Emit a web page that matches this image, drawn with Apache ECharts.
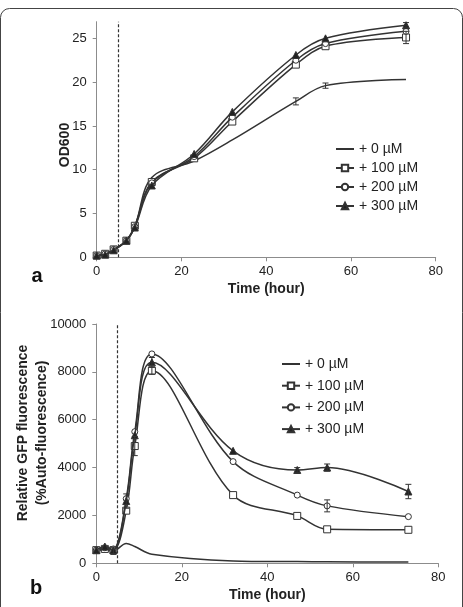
<!DOCTYPE html>
<html>
<head>
<meta charset="utf-8">
<script src="https://cdn.jsdelivr.net/npm/echarts@6/dist/echarts.min.js"></script>
<style>
html,body{margin:0;padding:0;background:#fff;}
#chart{width:463px;height:607px;}
</style>
</head>
<body>
<div id="chart"></div>
<script>
// ---------- data ----------
const seriesNames = ['+ 0 µM', '+ 100 µM', '+ 200 µM', '+ 300 µM'];

// Panel a: OD600 growth
const odTime = [0, 2, 4, 7, 9, 13, 23, 32, 47, 54, 73];
const od0   = [0.2, 0.4, 0.8, 1.9, 3.5, 9.1, 11.0, 13.4, 17.8, 19.6, 20.3];
const od100 = [0.2, 0.4, 0.9, 1.9, 3.6, 8.6, 11.3, 15.5, 22.0, 24.1, 25.1];
const od200 = [0.2, 0.4, 0.9, 1.9, 3.5, 8.5, 11.5, 16.0, 22.5, 24.4, 25.8];
const od300 = [0.2, 0.3, 0.8, 1.9, 3.4, 8.2, 11.8, 16.6, 23.1, 25.0, 26.5];
const odErr0   = [0, 0, 0, 0, 0, 0, 0, 0, 0.4, 0.3, 0];
const odErr100 = [0, 0, 0, 0, 0, 0, 0, 0, 0, 0, 0.7];
const odErr200 = [0, 0, 0, 0, 0, 0, 0, 0, 0, 0, 0];
const odErr300 = [0, 0, 0, 0, 0, 0, 0, 0, 0, 0, 0.3];

// Panel b: relative GFP fluorescence
const gfpTime = [0, 2, 4, 7, 9, 13, 32, 47, 54, 73];
const gfp0   = [550, 560, 520, 830, 700, 380, 100, 70, 60, 50];
const gfp100 = [550, 600, 550, 2200, 4900, 8050, 2850, 1980, 1420, 1400];
const gfp200 = [550, 650, 600, 2700, 5500, 8750, 4250, 2850, 2400, 1950];
const gfp300 = [550, 700, 550, 2600, 5350, 8400, 4700, 3900, 4000, 3000];
const gfpErr0   = [0, 0, 150, 0, 0, 0, 0, 0, 0, 0];
const gfpErr100 = [0, 0, 0, 0, 400, 150, 0, 0, 0, 0];
const gfpErr200 = [0, 0, 0, 0, 0, 0, 0, 0, 250, 0];
const gfpErr300 = [0, 0, 0, 300, 0, 200, 0, 100, 150, 300];

const xTicks = [0, 20, 40, 60, 80];
const odTicks = [0, 5, 10, 15, 20, 25];
const gfpTicks = [0, 2000, 4000, 6000, 8000, 10000];
const inductionTime = 5;

// ---------- chart ----------
const FONT = 'Liberation Sans, Arial, sans-serif';
const LINE = '#333';
const AXIS = '#8c8c8c';

const chart = echarts.init(document.getElementById('chart'));

function pairs(t, v) { return t.map((x, i) => [x, v[i]]); }
function errData(t, v, e) {
  const out = [];
  t.forEach((x, i) => { if (e[i] > 0) out.push([x, v[i] - e[i], v[i] + e[i]]); });
  return out;
}

const markerDefs = [
  { symbol: 'none', symbolSize: 0, fill: LINE },
  { symbol: 'rect', symbolSize: 7, fill: '#fff' },
  { symbol: 'circle', symbolSize: 6, fill: '#fff' },
  { symbol: 'triangle', symbolSize: 7, fill: '#222' }
];

function lineSeries(idx, gridIdx, t, v, withMark) {
  const m = markerDefs[idx];
  const s = {
    name: seriesNames[idx],
    type: 'line',
    xAxisIndex: gridIdx, yAxisIndex: gridIdx,
    data: pairs(t, v),
    smooth: 0.35,
    symbol: m.symbol,
    symbolSize: m.symbolSize,
    showSymbol: m.symbol !== 'none',
    lineStyle: { color: LINE, width: 1.5 },
    itemStyle: { color: m.fill, borderColor: LINE, borderWidth: 1 },
    z: 3 + idx,
    silent: true
  };
  if (withMark) {
    s.markLine = {
      silent: true,
      symbol: ['none', 'none'],
      label: { show: false },
      lineStyle: { type: [3, 2], color: '#333', width: 1.2 },
      data: [{ xAxis: inductionTime }]
    };
  }
  return s;
}

function errSeries(gridIdx, data) {
  return {
    type: 'custom',
    xAxisIndex: gridIdx, yAxisIndex: gridIdx,
    data: data,
    encode: { x: 0, y: [1, 2] },
    z: 10,
    silent: true,
    renderItem: function (params, api) {
      const x = api.value(0);
      const p1 = api.coord([x, api.value(1)]);
      const p2 = api.coord([x, api.value(2)]);
      const w = 3;
      const st = { stroke: LINE, lineWidth: 1 };
      return {
        type: 'group',
        children: [
          { type: 'line', shape: { x1: p1[0], y1: p1[1], x2: p2[0], y2: p2[1] }, style: st },
          { type: 'line', shape: { x1: p1[0] - w, y1: p1[1], x2: p1[0] + w, y2: p1[1] }, style: st },
          { type: 'line', shape: { x1: p2[0] - w, y1: p2[1], x2: p2[0] + w, y2: p2[1] }, style: st }
        ]
      };
    }
  };
}

function xAxisDef(gridIdx) {
  return {
    type: 'value', gridIndex: gridIdx, min: 0, max: 80, interval: 20,
    name: 'Time (hour)', nameLocation: 'middle', nameGap: 25,
    nameTextStyle: { fontFamily: FONT, fontSize: 14, fontWeight: 'bold', color: '#222' },
    axisLine: { lineStyle: { color: AXIS, width: 1 } },
    axisTick: { show: true, length: 4, lineStyle: { color: AXIS } },
    axisLabel: { fontFamily: FONT, fontSize: 13, color: '#222', margin: 8,
      customValues: xTicks, formatter: v => String(v) },
    splitLine: { show: false }
  };
}

function legendData() {
  return seriesNames.map((n, i) => i === 0 ? { name: n, itemStyle: { opacity: 0 } } : { name: n });
}

const option = {
  animation: false,
  backgroundColor: '#fff',
  grid: [
    { left: 96.7, right: 27.3, top: 21.7, bottom: 349.7 },
    { left: 96.3, right: 24.7, top: 324, bottom: 43.7 }
  ],
  xAxis: [xAxisDef(0), xAxisDef(1)],
  yAxis: [
    {
      type: 'value', gridIndex: 0, min: 0, max: 26.9,
      axisLine: { show: true, lineStyle: { color: AXIS, width: 1 } },
      axisTick: { show: true, length: 4, lineStyle: { color: AXIS }, customValues: odTicks },
      axisLabel: { fontFamily: FONT, fontSize: 13, color: '#222', margin: 10,
        customValues: odTicks, formatter: v => String(v) },
      splitLine: { show: false }
    },
    {
      type: 'value', gridIndex: 1, min: 0, max: 10000, interval: 2000,
      axisLine: { show: true, lineStyle: { color: AXIS, width: 1 } },
      axisTick: { show: true, length: 4, lineStyle: { color: AXIS } },
      axisLabel: { fontFamily: FONT, fontSize: 13, color: '#222', margin: 10,
        customValues: gfpTicks, formatter: v => String(v) },
      splitLine: { show: false }
    }
  ],
  legend: [
    {
      orient: 'vertical', left: 330, top: 136,
      itemWidth: 18, itemHeight: 8, itemGap: 3,
      data: legendData(),
      selectedMode: false,
      textStyle: { fontFamily: FONT, fontSize: 14, color: '#222', height: 16, lineHeight: 16 }
    },
    {
      orient: 'vertical', left: 276, top: 351,
      itemWidth: 18, itemHeight: 8, itemGap: 5.7,
      data: legendData(),
      selectedMode: false,
      textStyle: { fontFamily: FONT, fontSize: 14, color: '#222', height: 16, lineHeight: 16 }
    }
  ],
  graphic: [
    { type: 'rect', shape: { x: 0.5, y: 8.5, width: 462, height: 700, r: 9 },
      style: { fill: 'none', stroke: '#444', lineWidth: 1 }, silent: true },
    { type: 'text', x: 65, y: 145, rotation: Math.PI / 2,
      style: { text: 'OD600', fontFamily: FONT, fontSize: 14, fontWeight: 'bold', fill: '#222',
        textAlign: 'center', textVerticalAlign: 'middle' } },
    { type: 'text', x: 33, y: 433, rotation: Math.PI / 2,
      style: { text: 'Relative GFP fluorescence\n(%Auto-fluorescence)', fontFamily: FONT, fontSize: 14,
        fontWeight: 'bold', fill: '#222', lineHeight: 19,
        textAlign: 'center', textVerticalAlign: 'middle' } },
    { type: 'text', x: 37, y: 276,
      style: { text: 'a', fontFamily: FONT, fontSize: 20, fontWeight: 'bold', fill: '#111',
        textAlign: 'center', textVerticalAlign: 'middle' } },
    { type: 'text', x: 36, y: 588,
      style: { text: 'b', fontFamily: FONT, fontSize: 20, fontWeight: 'bold', fill: '#111',
        textAlign: 'center', textVerticalAlign: 'middle' } }
  ],
  series: [
    lineSeries(0, 0, odTime, od0, true),
    lineSeries(1, 0, odTime, od100, false),
    lineSeries(2, 0, odTime, od200, false),
    lineSeries(3, 0, odTime, od300, false),
    errSeries(0, [].concat(errData(odTime, od0, odErr0), errData(odTime, od100, odErr100),
      errData(odTime, od200, odErr200), errData(odTime, od300, odErr300))),
    lineSeries(0, 1, gfpTime, gfp0, true),
    lineSeries(1, 1, gfpTime, gfp100, false),
    lineSeries(2, 1, gfpTime, gfp200, false),
    lineSeries(3, 1, gfpTime, gfp300, false),
    errSeries(1, [].concat(errData(gfpTime, gfp0, gfpErr0), errData(gfpTime, gfp100, gfpErr100),
      errData(gfpTime, gfp200, gfpErr200), errData(gfpTime, gfp300, gfpErr300)))
  ]
};

chart.setOption(option);
</script>
</body>
</html>
